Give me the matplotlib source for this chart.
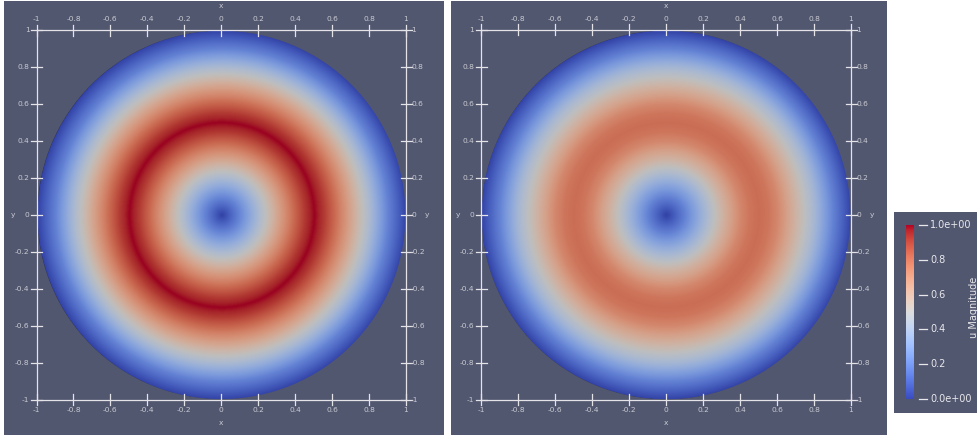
import numpy as np
import matplotlib
matplotlib.use("Agg")
import matplotlib.pyplot as plt
from matplotlib.patches import Circle
from matplotlib.colors import ListedColormap

# Radial profiles of |u| on the unit disk (radius -> magnitude)
radius = [0.0, 0.1, 0.2, 0.3, 0.4, 0.45, 0.5, 0.55, 0.6, 0.7, 0.8, 0.9, 1.0]
mag_exact = [0.0, 0.2, 0.42, 0.64, 0.84, 0.93, 1.0, 0.93, 0.84, 0.64, 0.42, 0.18, 0.0]
mag_approx = [0.0, 0.18, 0.38, 0.58, 0.74, 0.79, 0.81, 0.79, 0.74, 0.58, 0.4, 0.18, 0.0]

tick_values = [-1, -0.8, -0.6, -0.4, -0.2, 0, 0.2, 0.4, 0.6, 0.8, 1]
tick_labels = ["-1", "-0.8", "-0.6", "-0.4", "-0.2", "0", "0.2", "0.4", "0.6", "0.8", "1"]
cbar_ticks = [0.0, 0.2, 0.4, 0.6, 0.8, 1.0]
cbar_labels = ["0.0e+00", "0.2", "0.4", "0.6", "0.8", "1.0e+00"]
cbar_title = "u Magnitude"

BG = "#525770"
LINE = "#e4e4e8"
TXT = "#c8c9d0"
W, H = 980, 438

# Cool-to-warm map as seen under the scene's headlight (slightly dimmed)
base = plt.get_cmap("coolwarm")(np.linspace(0, 1, 256))
lit = base.copy()
lit[:, :3] *= 0.86
cmap_lit = ListedColormap(lit)

fig = plt.figure(figsize=(W / 100, H / 100), dpi=100)
fig.patch.set_facecolor("white")


def add_panel(x0, x1, y0, y1, xm1, xp1, yp1, ym1):
    """Panel spanning pixels [x0,x1]x[y0,y1] (y from top); data -1/1 sit at given pixels."""
    ax = fig.add_axes([x0 / W, 1 - y1 / H, (x1 - x0) / W, (y1 - y0) / H])
    sx = (xp1 - xm1) / 2.0
    cx = (xp1 + xm1) / 2.0
    sy = (ym1 - yp1) / 2.0
    cy = (ym1 + yp1) / 2.0
    ax.set_xlim((x0 - cx) / sx, (x1 - cx) / sx)
    ax.set_ylim((cy - y1) / sy, (cy - y0) / sy)
    ax.set_facecolor(BG)
    ax.set_xticks([])
    ax.set_yticks([])
    for s in ax.spines.values():
        s.set_visible(False)
    return ax, sx, sy


def draw_field(ax, prof):
    n = 700
    g = np.linspace(-1, 1, n)
    X, Y = np.meshgrid(g, g)
    R = np.hypot(X, Y)
    Z = np.interp(R, radius, prof)
    Z = np.ma.masked_where(R > 1.0, Z)
    im = ax.imshow(Z, cmap=cmap_lit, vmin=0, vmax=1, origin="lower",
                   extent=[-1, 1, -1, 1], interpolation="bilinear", zorder=1)
    clip = Circle((0, 0), 0.997, transform=ax.transData)
    im.set_clip_path(clip)


def draw_grid(ax, sx, sy):
    lw = 0.9
    px = 1.0 / sx
    py = 1.0 / sy
    ax.plot([-1, 1, 1, -1, -1], [1, 1, -1, -1, 1], color=LINE, lw=lw, zorder=3,
            solid_capstyle="butt")
    tl = 5.5
    fs = 5.4
    for v, lab in zip(tick_values, tick_labels):
        for yy in (1, -1):
            ax.plot([v, v], [yy - tl * py, yy + tl * py], color=LINE, lw=lw, zorder=3)
        for xx in (1, -1):
            ax.plot([xx - tl * px, xx + tl * px], [v, v], color=LINE, lw=lw, zorder=3)
        ax.text(v, 1 + 11 * py, lab, color=TXT, fontsize=fs, ha="center", va="center", zorder=4)
        ax.text(v, -1 - 10 * py, lab, color=TXT, fontsize=fs, ha="center", va="center", zorder=4)
        ax.text(-1 - 7 * px, v, lab, color=TXT, fontsize=fs, ha="right", va="center", zorder=4)
        ax.text(1 + 5 * px, v, lab, color=TXT, fontsize=fs, ha="left", va="center", zorder=4)
    ax.text(0, 1 + 24 * py, "x", color=TXT, fontsize=fs, ha="center", va="center")
    ax.text(0, -1 - 23 * py, "x", color=TXT, fontsize=fs, ha="center", va="center")
    ax.text(-1 - 23 * px, 0, "y", color=TXT, fontsize=fs, ha="center", va="center")
    ax.text(1 + 21 * px, 0, "y", color=TXT, fontsize=fs, ha="center", va="center")


axL, sxL, syL = add_panel(4, 444, 0, 436, 36.5, 406.0, 29.3, 400.5)
draw_field(axL, mag_exact)
draw_grid(axL, sxL, syL)

axR, sxR, syR = add_panel(450.5, 887, 0, 436, 481.0, 851.0, 29.3, 400.5)
draw_field(axR, mag_approx)
draw_grid(axR, sxR, syR)

# Color legend
cax_bg = fig.add_axes([894 / W, 1 - 413 / H, (977 - 894) / W, (413 - 212) / H])
cax_bg.set_facecolor(BG)
cax_bg.set_xticks([])
cax_bg.set_yticks([])
for s in cax_bg.spines.values():
    s.set_visible(False)

bar_top, bar_bot = 225.0, 399.0
cax = fig.add_axes([906 / W, 1 - bar_bot / H, 8 / W, (bar_bot - bar_top) / H])
grad = np.linspace(0, 1, 256).reshape(-1, 1)
cax.imshow(grad, cmap="coolwarm", vmin=0, vmax=1, origin="lower", aspect="auto",
           extent=[0, 1, 0, 1])
cax.set_xlim(0, 1)
cax.set_ylim(0, 1)
cax.set_xticks([])
cax.set_yticks([])
for s in cax.spines.values():
    s.set_visible(False)

for v, lab in zip(cbar_ticks, cbar_labels):
    ypix = bar_bot - v * (bar_bot - bar_top)
    yf = 1 - ypix / H
    fig.add_artist(plt.Line2D([919 / W, 927 / W], [yf, yf], color="#e8e8ec", lw=0.9))
    fig.text(930 / W, yf, lab, color="#e8e8ec", fontsize=7, ha="left", va="center")

fig.text(974 / W, 1 - 307 / H, cbar_title, color="#e8e8ec", fontsize=7,
         rotation=90, ha="center", va="center")

fig.savefig("out.png", dpi=100, facecolor=fig.get_facecolor())
